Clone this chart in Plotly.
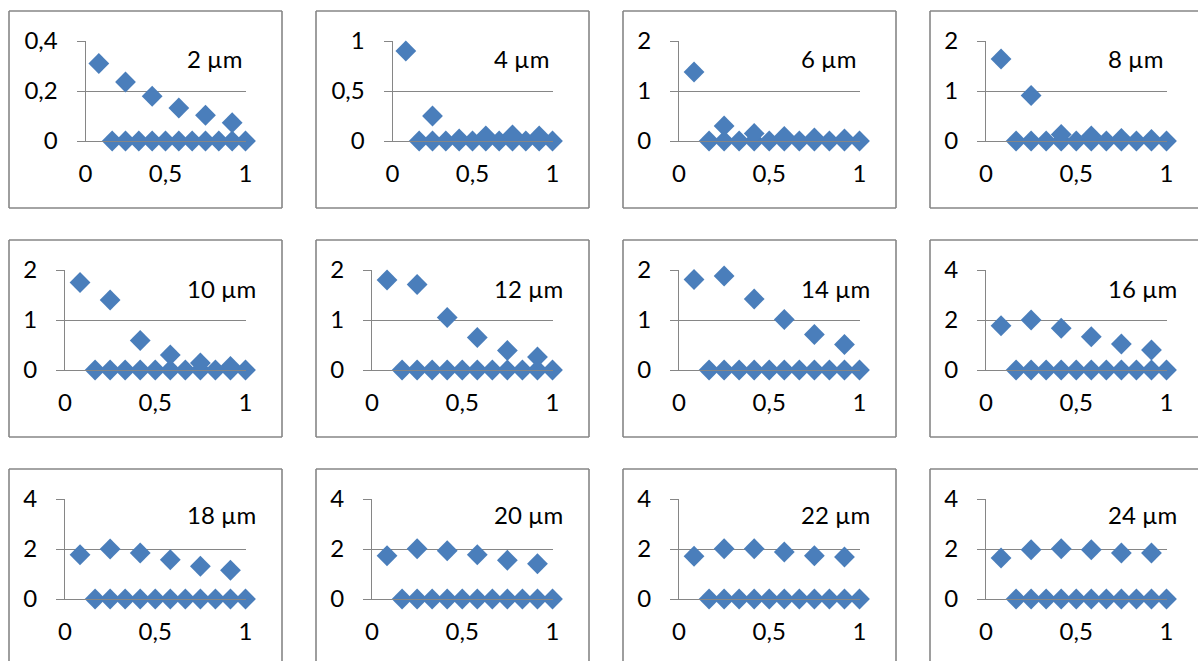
import plotly.graph_objects as go

# ---- data ----
panel_labels = ["2 µm", "4 µm", "6 µm", "8 µm", "10 µm", "12 µm",
                "14 µm", "16 µm", "18 µm", "20 µm", "22 µm", "24 µm"]

x_peaks = [0.0833, 0.25, 0.4167, 0.5833, 0.75, 0.9167]
x_zeros = [0.1667, 0.25, 0.3333, 0.4167, 0.5, 0.5833, 0.6667, 0.75, 0.8333, 0.9167, 1.0]
y_zeros = [0, 0, 0, 0, 0, 0, 0, 0, 0, 0, 0]

y_2um = [0.31, 0.236, 0.179, 0.132, 0.103, 0.073]
y_4um = [0.90, 0.25, 0.02, 0.05, 0.06, 0.05]
y_6um = [1.38, 0.30, 0.15, 0.09, 0.06, 0.04]
y_8um = [1.64, 0.91, 0.13, 0.10, 0.05, 0.03]
y_10um = [1.75, 1.40, 0.59, 0.30, 0.14, 0.07]
y_12um = [1.80, 1.71, 1.05, 0.65, 0.39, 0.26]
y_14um = [1.81, 1.88, 1.42, 1.01, 0.71, 0.51]
y_16um = [1.77, 2.00, 1.67, 1.33, 1.04, 0.80]
y_18um = [1.77, 2.00, 1.84, 1.57, 1.31, 1.15]
y_20um = [1.73, 2.01, 1.93, 1.77, 1.55, 1.41]
y_22um = [1.71, 2.01, 2.01, 1.88, 1.73, 1.68]
y_24um = [1.64, 1.97, 2.01, 1.97, 1.84, 1.84]
peak_series = [y_2um, y_4um, y_6um, y_8um, y_10um, y_12um,
               y_14um, y_16um, y_18um, y_20um, y_22um, y_24um]

y_max = [0.4, 1, 2, 2, 2, 2, 2, 4, 4, 4, 4, 4]
y_tickvals = {0.4: [0, 0.2, 0.4], 1: [0, 0.5, 1], 2: [0, 1, 2], 4: [0, 2, 4]}
y_ticktext = {0.4: ["0", "0,2", "0,4"], 1: ["0", "0,5", "1"], 2: ["0", "1", "2"], 4: ["0", "2", "4"]}
x_tickvals = [0, 0.5, 1]
x_ticktext = ["0", "0,5", "1"]

# ---- layout geometry (pixels) ----
W, H = 1198, 661
col_left = [9, 316, 623, 930]
row_top = [11, 240, 469]
box_w, box_h = 273, 197
label_dy = [48, 48, 45]

BLUE = "#4A7EBB"
GREY = "#868686"
FONT = "Lato"
FS = 24


def px(v):
    return min(max(v, 0), W) / W


def py(v):
    return 1 - min(max(v, 0), H) / H


fig = go.Figure()
layout = dict(
    width=W, height=H,
    margin=dict(l=0, r=0, t=0, b=0, pad=0, autoexpand=False),
    paper_bgcolor="white", plot_bgcolor="white", showlegend=False,
    font=dict(family=FONT, size=FS, color="black"),
)
shapes = []
annotations = []

for i in range(12):
    r, c = divmod(i, 4)
    n = "" if i == 0 else str(i + 1)
    bl, bt = col_left[c], row_top[r]
    br, bb = bl + box_w, bt + box_h
    ym = y_max[i]
    wide = ym in (0.4, 1)
    pl = bl + (76.5 if wide else 56)
    pr = bl + 236.5
    pt = bt + 30
    pb = bt + 130

    fig.add_trace(go.Scatter(
        x=x_zeros, y=y_zeros, mode="markers", xaxis="x" + n, yaxis="y" + n,
        marker=dict(symbol="diamond", size=16, color=BLUE, line=dict(width=0)),
        cliponaxis=False, hoverinfo="x+y"))
    fig.add_trace(go.Scatter(
        x=x_peaks, y=peak_series[i], mode="markers", xaxis="x" + n, yaxis="y" + n,
        marker=dict(symbol="diamond", size=16, color=BLUE, line=dict(width=0)),
        cliponaxis=False, hoverinfo="x+y"))

    layout["xaxis" + n] = dict(
        domain=[pl / W, pr / W], range=[0, 1], anchor="y" + n,
        tickvals=x_tickvals, ticktext=x_ticktext, showgrid=False, zeroline=False,
        showline=True, linecolor=GREY, linewidth=1, ticks="",
        ticklabelstandoff=11, tickfont=dict(family=FONT, size=FS, color="black"),
        automargin=False, fixedrange=True)
    layout["yaxis" + n] = dict(
        domain=[1 - pb / H, 1 - pt / H], range=[0, ym], anchor="x" + n,
        tickvals=y_tickvals[ym], ticktext=y_ticktext[ym],
        showgrid=True, gridcolor=GREY, gridwidth=1, zeroline=False,
        showline=True, linecolor=GREY, linewidth=1,
        ticks="outside", ticklen=8, tickcolor=GREY, tickwidth=1,
        ticklabelstandoff=14, tickfont=dict(family=FONT, size=FS, color="black"),
        automargin=False, fixedrange=True)

    # frame edges, clipped to the page (edges outside the page are omitted)
    edges = [(bl, bt, br, bt), (bl, bb, br, bb), (bl, bt, bl, bb), (br, bt, br, bb)]
    for (x0, y0, x1, y1) in edges:
        if x0 > W - 1 or y0 > H - 1:
            continue
        shapes.append(dict(
            type="line", xref="paper", yref="paper",
            x0=px(x0), x1=px(x1), y0=py(y0), y1=py(y1),
            line=dict(color=GREY, width=1.6), layer="below"))
    shapes.append(dict(
        type="line", xref="x" + n, yref="y" + n, x0=0, x1=0,
        ysizemode="pixel", yanchor=0, y0=0, y1=-7,
        line=dict(color=GREY, width=1)))
    annotations.append(dict(
        text=panel_labels[i], xref="paper", yref="paper",
        x=(bl + 176) / W, y=1 - (bt + label_dy[r]) / H,
        xanchor="left", yanchor="middle", showarrow=False,
        font=dict(family=FONT, size=FS, color="black")))

layout["shapes"] = shapes
layout["annotations"] = annotations
fig.update_layout(**layout)
fig.write_html(
    "out.html",
    config={"displayModeBar": False},
    post_script=("document.documentElement.style.margin='0';"
                 "document.body.style.margin='0';"
                 "document.body.style.overflow='hidden';"
                 "document.documentElement.style.overflow='hidden';"),
)
